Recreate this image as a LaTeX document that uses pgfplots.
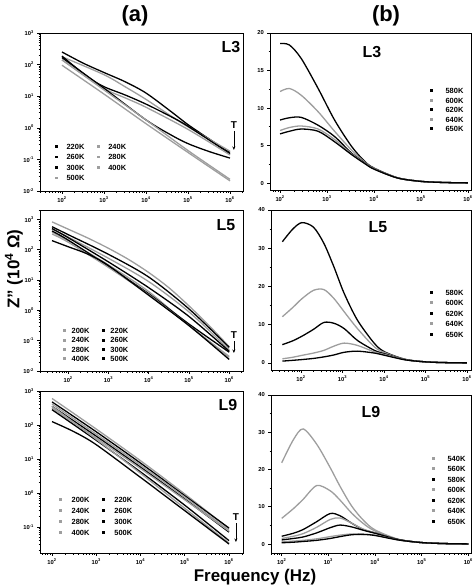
\documentclass[border=0pt]{standalone}
\usepackage{fontspec}
\setmainfont{Liberation Sans}
\usepackage{pgfplots}
\pgfplotsset{compat=1.18}
\usetikzlibrary{arrows.meta}
\definecolor{lg}{gray}{0.62}
\pgfplotsset{
 mypanel/.style={scale only axis, axis line style={line width=0.9bp}, tick align=outside,
   xtick pos=left, ytick pos=left, major tick length=2.6bp, minor tick length=1.5bp,
   tick style={line width=0.6bp,black},
   ticklabel style={font=\bfseries\fontsize{5.8}{6}\selectfont},
   legend cell align=left,
   legend image code/.code={\fill (0.3bp,-0.8bp) rectangle (1.9bp,0.8bp);},
   legend style={draw=none, fill=none, font=\bfseries\fontsize{7.5}{8}\selectfont,
     nodes={inner sep=0.5bp, text height=5.5bp, text depth=0bp}, row sep=4bp,
     /tikz/every odd column/.style={column sep=8bp},
     /tikz/every even column/.style={column sep=12bp}},
   every axis plot/.append style={line width=1.3bp, smooth}},
 mylogx/.style={xtick={1e2,1e3,1e4,1e5,1e6},
   xticklabels={{10\textsuperscript{2}},{10\textsuperscript{3}},{10\textsuperscript{4}},{10\textsuperscript{5}},{10\textsuperscript{6}}},
   minor xtick={20,30,40,50,60,70,80,90,200,300,400,500,600,700,800,900,2000,3000,4000,5000,6000,7000,8000,9000,20000,30000,40000,50000,60000,70000,80000,90000,200000,300000,400000,500000,600000,700000,800000,900000,2000000}},
 mylogy/.style={ytick={1e-2,1e-1,1,1e1,1e2,1e3},
   yticklabels={{10\textsuperscript{-2}},{10\textsuperscript{-1}},{10\textsuperscript{0}},{10\textsuperscript{1}},{10\textsuperscript{2}},{10\textsuperscript{3}}},
   minor ytick={0.02,0.03,0.04,0.05,0.06,0.07,0.08,0.09,0.2,0.3,0.4,0.5,0.6,0.7,0.8,0.9,2,3,4,5,6,7,8,9,20,30,40,50,60,70,80,90,200,300,400,500,600,700,800,900,2000}},
}
\newcommand{\plab}[3]{\node[font=\bfseries\fontsize{16}{16}\selectfont] at (rel axis cs:#1,#2) {#3};}
\newcommand{\tarrow}[4]{\node[font=\bfseries\fontsize{10}{10}\selectfont] at (rel axis cs:#1,#2) {T};
  \draw[-{Stealth[length=3.5bp,width=3bp]}, line width=0.6bp] (rel axis cs:#1,#3) -- (rel axis cs:#1,#4);}
\begin{document}
\begin{tikzpicture}
\path[use as bounding box] (0,0) rectangle (474bp,-587bp);
\node[font=\bfseries\fontsize{22}{22}\selectfont] at (135bp,-16bp) {(a)};
\node[font=\bfseries\fontsize{22}{22}\selectfont] at (386bp,-16bp) {(b)};
\node[rotate=90, font=\bfseries\fontsize{17}{17}\selectfont] at (14bp,-269bp) {Z" (10\textsuperscript{4} Ω)};
\node[font=\bfseries\fontsize{17}{17}\selectfont] at (255bp,-577bp) {Frequency (Hz)};

% ---------------- a1: L3
\begin{axis}[xmode=log, ymode=log, mypanel, mylogx, mylogy, at={(40bp,-33bp)}, anchor=north west, width=203bp, height=158bp,
  xmin=30, xmax=2.04e6, ymin=1e-2, ymax=1e3, legend columns=2,
  legend style={at={(0.059,0.316)}, anchor=north west}]
\addplot[black] coordinates {(100,251)(316,112)(1000,56.2)(3162,28.8)(1e4,12.6)(39811,3.24)(1e5,1.26)(316228,0.447)(1e6,0.166)};
\addlegendentry{220K}
\addplot[lg] coordinates {(100,178)(1000,47.9)(3162,20.0)(1e4,7.94)(39811,2.34)(1e5,1.07)(1e6,0.182)};
\addlegendentry{240K}
\addplot[black] coordinates {(100,186)(398,41.7)(1000,20.0)(3162,11.0)(1e4,5.62)(39811,2.24)(1e5,1.12)(1e6,0.151)};
\addlegendentry{260K}
\addplot[lg] coordinates {(100,141)(1000,17.8)(3162,8.91)(1e4,4.47)(1e5,0.891)(1e6,0.138)};
\addlegendentry{280K}
\addplot[black] coordinates {(100,166)(1000,17.8)(1e4,1.78)(39811,0.589)(1e5,0.316)(316228,0.178)(1e6,0.110)};
\addlegendentry{300K}
\addplot[lg] coordinates {(100,141)(1000,15.8)(1e4,1.78)(1e5,0.191)(1e6,0.0234)};
\addlegendentry{400K}
\addplot[lg] coordinates {(100,95.5)(1000,11.7)(1e4,1.35)(1e5,0.166)(1e6,0.0209)};
\addlegendentry{500K}
\plab{0.94}{0.91}{L3}
\tarrow{0.955}{0.418}{0.38}{0.26}
\end{axis}

% ---------------- a2: L5
\begin{axis}[xmode=log, ymode=log, mypanel, mylogx, mylogy, at={(40bp,-210bp)}, anchor=north west, width=203bp, height=161bp,
  xmin=20, xmax=2.2e6, ymin=1e-2, ymax=2050, legend columns=2,
  legend style={at={(0.099,0.283)}, anchor=north west, row sep=2.8bp,
    /tikz/every odd column/.style={column sep=5bp}}]
\addplot[lg] coordinates {(39.8,832)(100,479)(316,240)(1000,112)(3162,47.9)(1e4,17.8)(31623,5.62)(1e5,1.41)(316228,0.316)(1e6,0.0631)};
\addlegendentry{200K}
\addplot[black] coordinates {(39.8,575)(100,316)(1000,70.8)(1e4,12.6)(1e5,1.12)(1e6,0.0603)};
\addlegendentry{220K}
\addplot[lg] coordinates {(39.8,479)(100,263)(1000,52.5)(1e4,8.91)(1e5,0.891)(1e6,0.0501)};
\addlegendentry{240K}
\addplot[black] coordinates {(39.8,501)(100,251)(1000,39.8)(1e4,5.62)(1e5,0.631)(1e6,0.0447)};
\addlegendentry{260K}
\addplot[lg] coordinates {(39.8,380)(100,200)(1000,31.6)(1e4,4.17)(1e5,0.316)(1e6,0.0302)};
\addlegendentry{280K}
\addplot[black] coordinates {(39.8,417)(100,209)(1000,28.2)(1e4,3.55)(1e5,0.355)(1e6,0.0417)};
\addlegendentry{300K}
\addplot[lg] coordinates {(39.8,331)(100,178)(1000,26.3)(1e4,3.31)(1e5,0.316)(1e6,0.0282)};
\addlegendentry{400K}
\addplot[black] coordinates {(39.8,200)(100,126)(316,70.8)(1000,30.2)(1e4,3.16)(1e5,0.316)(1e6,0.0240)};
\addlegendentry{500K}
\plab{0.916}{0.907}{L5}
\tarrow{0.955}{0.224}{0.186}{0.112}
\end{axis}

% ---------------- a3: L9
\begin{axis}[xmode=log, ymode=log, mypanel, mylogx, mylogy, at={(40bp,-391bp)}, anchor=north west, width=203bp, height=162bp,
  xmin=53.5, xmax=2.07e6, ymin=0.0172, ymax=1e3, legend columns=2,
  legend style={at={(0.079,0.364)}, anchor=north west, row sep=4.5bp,
    /tikz/every odd column/.style={column sep=9bp}}]
\addplot[lg] coordinates {(100,603)(1000,75.9)(1e4,8.91)(1e5,0.933)(1e6,0.0891)};
\addlegendentry{200K}
\addplot[black] coordinates {(100,479)(1000,63.1)(1e4,7.59)(1e5,0.832)(1e6,0.0933)};
\addlegendentry{220K}
\addplot[lg] coordinates {(100,417)(1000,53.7)(1e4,6.61)(1e5,0.759)(1e6,0.0794)};
\addlegendentry{240K}
\addplot[black] coordinates {(100,355)(1000,46.8)(1e4,5.75)(1e5,0.661)(1e6,0.0708)};
\addlegendentry{260K}
\addplot[lg] coordinates {(100,316)(1000,41.7)(1e4,5.25)(1e5,0.631)(1e6,0.0759)};
\addlegendentry{280K}
\addplot[black] coordinates {(100,282)(1000,35.5)(1e4,4.17)(1e5,0.437)(1e6,0.0398)};
\addlegendentry{300K}
\addplot[lg] coordinates {(100,355)(1000,38.0)(1e4,3.80)(1e5,0.355)(1e6,0.0339)};
\addlegendentry{400K}
\addplot[black] coordinates {(100,126)(316,63.1)(1000,26.3)(1e4,2.88)(1e5,0.302)(1e6,0.0316)};
\addlegendentry{500K}
\plab{0.926}{0.914}{L9}
\tarrow{0.965}{0.222}{0.185}{0.068}
\end{axis}

% ---------------- b1: L3
\begin{axis}[xmode=log, mypanel, mylogx, at={(270bp,-33bp)}, anchor=north west, width=201bp, height=157bp,
  xmin=61, xmax=1.16e6, ymin=-0.93, ymax=20, ytick={0,5,10,15,20}, minor ytick={2.5,7.5,12.5,17.5},
  yticklabel style={/pgf/number format/assume math mode=true},
  legend style={at={(0.781,0.666)}, anchor=north west, row sep=3bp,
    /tikz/every odd column/.style={column sep=12bp}}]
\addplot[black] coordinates {(100,18.6)(158,18.4)(282,16.6)(646,12.6)(1445,8.4)(3311,4.9)(6310,2.9)(1e4,2.0)(31623,0.7)(1e5,0.22)(316228,0.07)(1e6,0.02)};
\addlegendentry{580K}
\addplot[lg] coordinates {(100,12.2)(158,12.6)(282,11.7)(646,9.5)(1445,6.9)(3311,4.4)(6310,2.8)(1e4,1.95)(31623,0.7)(1e5,0.22)(316228,0.07)(1e6,0.02)};
\addlegendentry{600K}
\addplot[black] coordinates {(100,8.4)(158,8.7)(282,8.75)(646,7.7)(1445,6.2)(3311,4.0)(6310,2.7)(1e4,1.9)(31623,0.68)(1e5,0.22)(316228,0.07)(1e6,0.02)};
\addlegendentry{620K}
\addplot[lg] coordinates {(100,7.0)(158,7.4)(282,7.6)(646,7.2)(1445,5.8)(3311,3.9)(6310,2.65)(1e4,1.88)(31623,0.68)(1e5,0.22)(316228,0.07)(1e6,0.02)};
\addlegendentry{640K}
\addplot[black] coordinates {(100,6.55)(158,6.9)(282,7.2)(646,6.9)(1445,5.5)(3311,3.8)(6310,2.6)(1e4,1.85)(31623,0.67)(1e5,0.22)(316228,0.07)(1e6,0.02)};
\addlegendentry{650K}
\plab{0.507}{0.879}{L3}
\end{axis}

% ---------------- b2: L5
\begin{axis}[xmode=log, mypanel, mylogx, at={(271bp,-210bp)}, anchor=north west, width=200bp, height=160bp,
  xmin=18.9, xmax=1.25e6, ymin=-1.83, ymax=40, ytick={0,10,20,30,40}, minor ytick={5,15,25,35},
  yticklabel style={/pgf/number format/assume math mode=true},
  legend style={at={(0.78,0.519)}, anchor=north west, row sep=4bp,
    /tikz/every odd column/.style={column sep=12bp}}]
\addplot[black] coordinates {(35.5,31.7)(63.1,35.0)(105,36.7)(200,35.5)(355,31.3)(617,25.2)(1096,18.2)(2291,11.2)(5888,5.1)(10471,2.9)(31623,1.0)(1e5,0.3)(316228,0.1)(1e6,0.03)};
\addlegendentry{580K}
\addplot[lg] coordinates {(35.5,12.1)(63.1,14.5)(105,16.8)(200,19.0)(355,19.2)(617,16.9)(1096,13.4)(2291,9.0)(5888,4.2)(10471,2.7)(31623,0.95)(1e5,0.3)(316228,0.1)(1e6,0.03)};
\addlegendentry{600K}
\addplot[black] coordinates {(35.5,4.8)(63.1,5.8)(105,7.0)(200,8.8)(355,10.6)(617,10.4)(1096,9.0)(2291,5.9)(5888,3.3)(10471,2.4)(31623,0.9)(1e5,0.3)(316228,0.1)(1e6,0.03)};
\addlegendentry{620K}
\addplot[lg] coordinates {(35.5,1.1)(63.1,1.5)(105,2.0)(200,2.6)(355,3.3)(617,4.4)(1096,5.2)(2291,4.6)(5888,2.9)(10471,2.2)(31623,0.9)(1e5,0.3)(316228,0.1)(1e6,0.03)};
\addlegendentry{640K}
\addplot[black] coordinates {(35.5,0.5)(63.1,0.7)(105,0.9)(200,1.2)(355,1.6)(617,2.1)(1096,2.8)(2291,3.1)(5888,2.6)(10471,2.0)(31623,0.85)(1e5,0.3)(316228,0.1)(1e6,0.03)};
\addlegendentry{650K}
\plab{0.535}{0.894}{L5}
\end{axis}

% ---------------- b3: L9
\begin{axis}[xmode=log, mypanel, mylogx, at={(271bp,-395bp)}, anchor=north west, width=200bp, height=158bp,
  xmin=59, xmax=1.14e6, ymin=-2.4, ymax=40, ytick={0,10,20,30,40}, minor ytick={5,15,25,35},
  yticklabel style={/pgf/number format/assume math mode=true},
  legend style={at={(0.79,0.633)}, anchor=north west, row sep=4bp,
    /tikz/every odd column/.style={column sep=12bp}}]
\addplot[lg] coordinates {(100,21.8)(178,28.0)(288,30.9)(562,26.8)(1096,20.5)(1778,15.5)(3162,10.2)(5623,6.4)(1e4,3.8)(31623,1.3)(1e5,0.4)(316228,0.13)(1e6,0.04)};
\addlegendentry{540K}
\addplot[lg] coordinates {(100,6.9)(178,9.5)(288,12.0)(562,15.7)(1096,14.3)(1778,11.8)(3162,8.3)(5623,5.5)(1e4,3.5)(31623,1.25)(1e5,0.4)(316228,0.13)(1e6,0.04)};
\addlegendentry{560K}
\addplot[black] coordinates {(100,2.1)(178,2.9)(288,3.9)(562,6.0)(1096,8.2)(1778,7.6)(3162,5.6)(5623,3.9)(1e4,3.0)(31623,1.2)(1e5,0.4)(316228,0.13)(1e6,0.04)};
\addlegendentry{580K}
\addplot[lg] coordinates {(100,1.5)(178,2.1)(288,2.8)(562,4.5)(1096,6.6)(1778,7.0)(3162,5.6)(5623,4.0)(1e4,3.0)(31623,1.2)(1e5,0.4)(316228,0.13)(1e6,0.04)};
\addlegendentry{600K}
\addplot[black] coordinates {(100,1.1)(178,1.5)(288,1.9)(562,3.0)(1096,4.4)(1778,5.1)(3162,4.6)(5623,3.7)(1e4,2.9)(31623,1.2)(1e5,0.4)(316228,0.13)(1e6,0.04)};
\addlegendentry{620K}
\addplot[lg] coordinates {(100,0.6)(178,0.8)(288,1.0)(562,1.4)(1096,2.0)(1778,2.4)(3162,2.7)(5623,2.6)(1e4,2.4)(31623,1.1)(1e5,0.4)(316228,0.13)(1e6,0.04)};
\addlegendentry{640K}
\addplot[black] coordinates {(100,0.35)(178,0.5)(288,0.7)(562,1.0)(1096,1.5)(1778,2.0)(3162,2.5)(5623,2.6)(1e4,2.3)(31623,1.1)(1e5,0.4)(316228,0.13)(1e6,0.04)};
\addlegendentry{650K}
\plab{0.5}{0.892}{L9}
\end{axis}
\end{tikzpicture}
\end{document}
